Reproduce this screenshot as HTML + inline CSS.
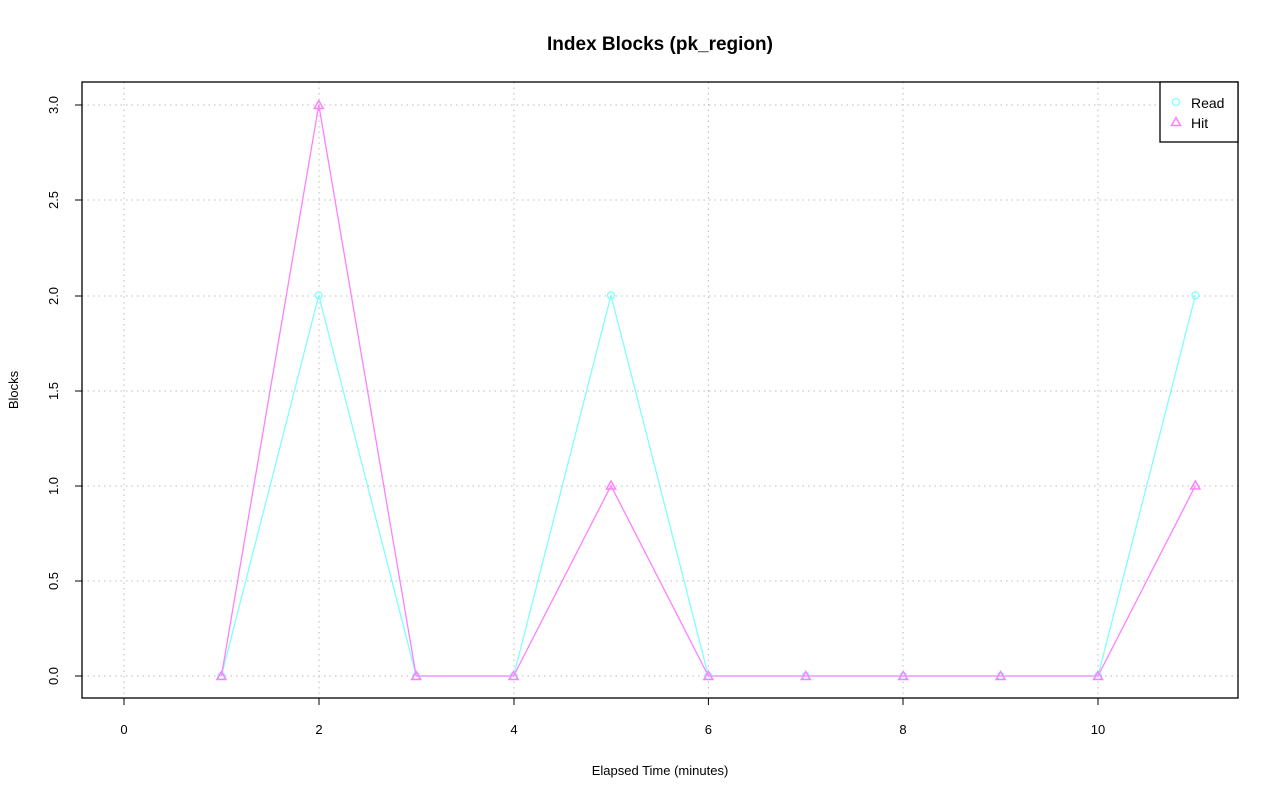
<!DOCTYPE html>
<html><head><meta charset="utf-8"><style>body{margin:0;background:#fff}svg{display:block}</style></head><body>
<svg width="1280" height="801" xmlns="http://www.w3.org/2000/svg" font-family="Liberation Sans, sans-serif">
<rect width="1280" height="801" fill="#fff"/>
<text x="660" y="50" text-anchor="middle" font-size="19" font-weight="bold">Index Blocks (pk_region)</text>
<g stroke="#bbb" stroke-dasharray="1.5,4" stroke-width="1">
<line x1="124" y1="82" x2="124" y2="698"/><line x1="319" y1="82" x2="319" y2="698"/><line x1="514" y1="82" x2="514" y2="698"/><line x1="708.4" y1="82" x2="708.4" y2="698"/><line x1="903" y1="82" x2="903" y2="698"/><line x1="1098" y1="82" x2="1098" y2="698"/>
<line x1="82" y1="676" x2="1238" y2="676"/><line x1="82" y1="581" x2="1238" y2="581"/><line x1="82" y1="486" x2="1238" y2="486"/><line x1="82" y1="391" x2="1238" y2="391"/><line x1="82" y1="296" x2="1238" y2="296"/><line x1="82" y1="200" x2="1238" y2="200"/><line x1="82" y1="105" x2="1238" y2="105"/>
</g>
<rect x="82" y="82" width="1156" height="616" fill="none" stroke="#000" stroke-width="1.3"/>
<g stroke="#000"><line x1="124" y1="698" x2="1098" y2="698"/>
<line x1="124" y1="698" x2="124" y2="705"/><line x1="319" y1="698" x2="319" y2="705"/><line x1="514" y1="698" x2="514" y2="705"/><line x1="708.4" y1="698" x2="708.4" y2="705"/><line x1="903" y1="698" x2="903" y2="705"/><line x1="1098" y1="698" x2="1098" y2="705"/>
<line x1="82" y1="105" x2="82" y2="676"/>
<line x1="75" y1="676" x2="82" y2="676"/><line x1="75" y1="581" x2="82" y2="581"/><line x1="75" y1="486" x2="82" y2="486"/><line x1="75" y1="391" x2="82" y2="391"/><line x1="75" y1="296" x2="82" y2="296"/><line x1="75" y1="200" x2="82" y2="200"/><line x1="75" y1="105" x2="82" y2="105"/></g>
<g font-size="13" text-anchor="middle">
<text x="124" y="734">0</text><text x="319" y="734">2</text><text x="514" y="734">4</text><text x="708.4" y="734">6</text><text x="903" y="734">8</text><text x="1098" y="734">10</text>
<text x="660" y="775">Elapsed Time (minutes)</text>
<text transform="translate(58,676) rotate(-90)">0.0</text><text transform="translate(58,581) rotate(-90)">0.5</text><text transform="translate(58,486) rotate(-90)">1.0</text><text transform="translate(58,391) rotate(-90)">1.5</text><text transform="translate(58,296) rotate(-90)">2.0</text><text transform="translate(58,200) rotate(-90)">2.5</text><text transform="translate(58,105) rotate(-90)">3.0</text>
<text transform="translate(18,390) rotate(-90)">Blocks</text>
</g>
<polyline fill="none" stroke="#80FFFF" stroke-width="1.3" points="221.4,676 318.8,295.4 416.2,676 513.6,676 611,295.4 708.4,676 805.8,676 903.2,676 1000.6,676 1098,676 1195.4,295.4"/>
<polyline fill="none" stroke="#FF80FF" stroke-width="1.3" points="221.4,676 318.8,105 416.2,676 513.6,676 611,485.7 708.4,676 805.8,676 903.2,676 1000.6,676 1098,676 1195.4,485.7"/>
<g fill="none" stroke="#80FFFF" stroke-width="1.3">
<circle cx="318.8" cy="295.4" r="3.5"/><circle cx="611" cy="295.4" r="3.5"/><circle cx="1195.4" cy="295.4" r="3.5"/>
<circle cx="221.4" cy="676" r="3.5"/><circle cx="416.2" cy="676" r="3.5"/><circle cx="513.6" cy="676" r="3.5"/><circle cx="708.4" cy="676" r="3.5"/><circle cx="805.8" cy="676" r="3.5"/><circle cx="903.2" cy="676" r="3.5"/><circle cx="1000.6" cy="676" r="3.5"/><circle cx="1098" cy="676" r="3.5"/>
</g>
<g fill="none" stroke="#FF80FF" stroke-width="1.5">
<path d="M318.8,100.5 l4.5,8 h-9 z"/><path d="M611,481 l4.5,8 h-9 z"/><path d="M1195.4,481 l4.5,8 h-9 z"/>
<path d="M221.4,671.5 l4.5,8 h-9 z"/><path d="M416.2,671.5 l4.5,8 h-9 z"/><path d="M513.6,671.5 l4.5,8 h-9 z"/><path d="M708.4,671.5 l4.5,8 h-9 z"/><path d="M805.8,671.5 l4.5,8 h-9 z"/><path d="M903.2,671.5 l4.5,8 h-9 z"/><path d="M1000.6,671.5 l4.5,8 h-9 z"/><path d="M1098,671.5 l4.5,8 h-9 z"/>
</g>
<rect x="1160" y="82" width="78" height="60" fill="#fff" stroke="#000" stroke-width="1.3"/>
<circle cx="1176" cy="102" r="3.5" fill="none" stroke="#80FFFF" stroke-width="1.3"/>
<path d="M1176,117.5 l4.5,8 h-9 z" fill="none" stroke="#FF80FF" stroke-width="1.5"/>
<text x="1191" y="108" font-size="14">Read</text>
<text x="1191" y="128" font-size="14">Hit</text>
</svg>
</body></html>
